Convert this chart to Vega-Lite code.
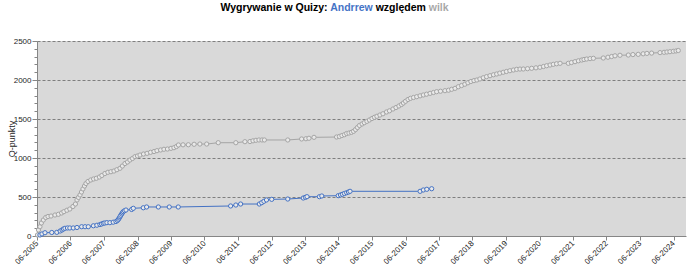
{
  "$schema": "https://vega.github.io/schema/vega-lite/v6.json",
  "autosize": "none",
  "width": 649,
  "height": 195,
  "padding": {"left": 37, "top": 41, "right": 7, "bottom": 30},
  "background": "white",
  "config": {
    "view": {"fill": "#d9d9d9", "stroke": null},
    "font": "Liberation Sans",
    "axis": {"labelFont": "Liberation Sans", "titleFont": "Liberation Sans", "labelColor": "#262626", "titleColor": "#262626", "domainColor": "#868686", "tickColor": "#868686"}
  },
  "title": {
    "text": "Wygrywanie w Quizy: Andrrew względem wilk",
    "font": "Liberation Sans",
    "fontSize": 10.5,
    "fontWeight": "bold",
    "anchor": "middle",
    "frame": "group",
    "offset": 24,
    "dx": -27,
    "color": "#000000",
    "encoding": {
      "fill": {"value": {"gradient": "linear", "x1": 0, "x2": 1, "y1": 0, "y2": 0, "stops": [
        {"offset": 0, "color": "#000000"},
        {"offset": 0.476, "color": "#000000"},
        {"offset": 0.476, "color": "#4472c4"},
        {"offset": 0.675, "color": "#4472c4"},
        {"offset": 0.675, "color": "#000000"},
        {"offset": 0.908, "color": "#000000"},
        {"offset": 0.908, "color": "#a6a6a6"},
        {"offset": 1, "color": "#a6a6a6"}
      ]}}
    }
  },
  "data": {"values": [
    {"player":"wilk","date":"2005-06-06","points":13},
    {"player":"wilk","date":"2005-06-17","points":77},
    {"player":"wilk","date":"2005-07-03","points":119},
    {"player":"wilk","date":"2005-07-19","points":167},
    {"player":"wilk","date":"2005-08-09","points":205},
    {"player":"wilk","date":"2005-09-04","points":237},
    {"player":"wilk","date":"2005-09-29","points":250},
    {"player":"wilk","date":"2005-11-01","points":256},
    {"player":"wilk","date":"2005-12-14","points":269},
    {"player":"wilk","date":"2006-01-20","points":278},
    {"player":"wilk","date":"2006-02-24","points":295},
    {"player":"wilk","date":"2006-03-21","points":312},
    {"player":"wilk","date":"2006-04-23","points":330},
    {"player":"wilk","date":"2006-05-25","points":346},
    {"player":"wilk","date":"2006-06-28","points":378},
    {"player":"wilk","date":"2006-07-25","points":410},
    {"player":"wilk","date":"2006-08-11","points":462},
    {"player":"wilk","date":"2006-08-27","points":494},
    {"player":"wilk","date":"2006-09-13","points":526},
    {"player":"wilk","date":"2006-09-29","points":564},
    {"player":"wilk","date":"2006-10-15","points":603},
    {"player":"wilk","date":"2006-11-01","points":641},
    {"player":"wilk","date":"2006-11-17","points":673},
    {"player":"wilk","date":"2006-12-09","points":699},
    {"player":"wilk","date":"2007-01-08","points":718},
    {"player":"wilk","date":"2007-02-08","points":731},
    {"player":"wilk","date":"2007-03-10","points":740},
    {"player":"wilk","date":"2007-04-12","points":756},
    {"player":"wilk","date":"2007-05-09","points":776},
    {"player":"wilk","date":"2007-06-11","points":801},
    {"player":"wilk","date":"2007-07-14","points":817},
    {"player":"wilk","date":"2007-08-16","points":824},
    {"player":"wilk","date":"2007-09-18","points":833},
    {"player":"wilk","date":"2007-10-20","points":850},
    {"player":"wilk","date":"2007-11-23","points":868},
    {"player":"wilk","date":"2007-12-19","points":897},
    {"player":"wilk","date":"2008-01-16","points":929},
    {"player":"wilk","date":"2008-02-13","points":949},
    {"player":"wilk","date":"2008-03-10","points":974},
    {"player":"wilk","date":"2008-04-07","points":994},
    {"player":"wilk","date":"2008-05-04","points":1017},
    {"player":"wilk","date":"2008-06-01","points":1026},
    {"player":"wilk","date":"2008-06-28","points":1038},
    {"player":"wilk","date":"2008-08-05","points":1051},
    {"player":"wilk","date":"2008-09-13","points":1060},
    {"player":"wilk","date":"2008-10-21","points":1073},
    {"player":"wilk","date":"2008-11-28","points":1083},
    {"player":"wilk","date":"2008-12-30","points":1094},
    {"player":"wilk","date":"2009-02-08","points":1103},
    {"player":"wilk","date":"2009-03-16","points":1112},
    {"player":"wilk","date":"2009-04-23","points":1115},
    {"player":"wilk","date":"2009-06-01","points":1124},
    {"player":"wilk","date":"2009-07-03","points":1132},
    {"player":"wilk","date":"2009-07-30","points":1147},
    {"player":"wilk","date":"2009-08-21","points":1167},
    {"player":"wilk","date":"2009-10-10","points":1169},
    {"player":"wilk","date":"2009-12-07","points":1170},
    {"player":"wilk","date":"2010-02-08","points":1176},
    {"player":"wilk","date":"2010-04-12","points":1179},
    {"player":"wilk","date":"2010-06-25","points":1179},
    {"player":"wilk","date":"2010-10-29","points":1196},
    {"player":"wilk","date":"2011-05-09","points":1196},
    {"player":"wilk","date":"2011-08-16","points":1209},
    {"player":"wilk","date":"2011-10-10","points":1211},
    {"player":"wilk","date":"2011-11-12","points":1220},
    {"player":"wilk","date":"2011-12-14","points":1227},
    {"player":"wilk","date":"2012-01-16","points":1231},
    {"player":"wilk","date":"2012-02-18","points":1231},
    {"player":"wilk","date":"2012-03-15","points":1231},
    {"player":"wilk","date":"2012-11-25","points":1231},
    {"player":"wilk","date":"2013-04-25","points":1244},
    {"player":"wilk","date":"2013-06-11","points":1247},
    {"player":"wilk","date":"2013-07-14","points":1253},
    {"player":"wilk","date":"2013-09-07","points":1265},
    {"player":"wilk","date":"2014-05-11","points":1269},
    {"player":"wilk","date":"2014-06-11","points":1276},
    {"player":"wilk","date":"2014-07-08","points":1288},
    {"player":"wilk","date":"2014-08-05","points":1299},
    {"player":"wilk","date":"2014-08-29","points":1314},
    {"player":"wilk","date":"2014-09-23","points":1320},
    {"player":"wilk","date":"2014-10-20","points":1329},
    {"player":"wilk","date":"2014-11-12","points":1342},
    {"player":"wilk","date":"2014-12-04","points":1365},
    {"player":"wilk","date":"2014-12-25","points":1391},
    {"player":"wilk","date":"2015-01-16","points":1417},
    {"player":"wilk","date":"2015-02-13","points":1436},
    {"player":"wilk","date":"2015-03-10","points":1453},
    {"player":"wilk","date":"2015-04-07","points":1470},
    {"player":"wilk","date":"2015-05-04","points":1487},
    {"player":"wilk","date":"2015-06-01","points":1506},
    {"player":"wilk","date":"2015-06-28","points":1522},
    {"player":"wilk","date":"2015-07-25","points":1535},
    {"player":"wilk","date":"2015-08-27","points":1551},
    {"player":"wilk","date":"2015-09-29","points":1567},
    {"player":"wilk","date":"2015-11-07","points":1590},
    {"player":"wilk","date":"2015-12-09","points":1605},
    {"player":"wilk","date":"2016-01-16","points":1628},
    {"player":"wilk","date":"2016-02-18","points":1647},
    {"player":"wilk","date":"2016-03-21","points":1667},
    {"player":"wilk","date":"2016-04-18","points":1686},
    {"player":"wilk","date":"2016-05-09","points":1705},
    {"player":"wilk","date":"2016-06-01","points":1727},
    {"player":"wilk","date":"2016-06-28","points":1750},
    {"player":"wilk","date":"2016-07-25","points":1765},
    {"player":"wilk","date":"2016-08-27","points":1776},
    {"player":"wilk","date":"2016-10-01","points":1786},
    {"player":"wilk","date":"2016-11-07","points":1797},
    {"player":"wilk","date":"2016-12-12","points":1808},
    {"player":"wilk","date":"2017-01-16","points":1818},
    {"player":"wilk","date":"2017-02-24","points":1829},
    {"player":"wilk","date":"2017-04-02","points":1840},
    {"player":"wilk","date":"2017-05-06","points":1850},
    {"player":"wilk","date":"2017-06-17","points":1856},
    {"player":"wilk","date":"2017-08-05","points":1863},
    {"player":"wilk","date":"2017-09-13","points":1869},
    {"player":"wilk","date":"2017-10-17","points":1881},
    {"player":"wilk","date":"2017-11-23","points":1893},
    {"player":"wilk","date":"2017-12-29","points":1914},
    {"player":"wilk","date":"2018-02-02","points":1929},
    {"player":"wilk","date":"2018-03-10","points":1946},
    {"player":"wilk","date":"2018-04-12","points":1964},
    {"player":"wilk","date":"2018-05-15","points":1981},
    {"player":"wilk","date":"2018-06-17","points":1992},
    {"player":"wilk","date":"2018-07-19","points":2000},
    {"player":"wilk","date":"2018-08-21","points":2013},
    {"player":"wilk","date":"2018-09-27","points":2029},
    {"player":"wilk","date":"2018-11-01","points":2043},
    {"player":"wilk","date":"2018-12-09","points":2055},
    {"player":"wilk","date":"2019-01-16","points":2067},
    {"player":"wilk","date":"2019-02-20","points":2077},
    {"player":"wilk","date":"2019-03-26","points":2088},
    {"player":"wilk","date":"2019-05-02","points":2099},
    {"player":"wilk","date":"2019-06-06","points":2109},
    {"player":"wilk","date":"2019-07-14","points":2119},
    {"player":"wilk","date":"2019-08-21","points":2128},
    {"player":"wilk","date":"2019-09-26","points":2137},
    {"player":"wilk","date":"2019-11-01","points":2140},
    {"player":"wilk","date":"2019-12-07","points":2141},
    {"player":"wilk","date":"2020-01-22","points":2145},
    {"player":"wilk","date":"2020-03-07","points":2150},
    {"player":"wilk","date":"2020-04-23","points":2156},
    {"player":"wilk","date":"2020-06-06","points":2163},
    {"player":"wilk","date":"2020-07-14","points":2173},
    {"player":"wilk","date":"2020-08-18","points":2183},
    {"player":"wilk","date":"2020-09-24","points":2192},
    {"player":"wilk","date":"2020-10-29","points":2201},
    {"player":"wilk","date":"2020-12-04","points":2208},
    {"player":"wilk","date":"2021-01-11","points":2214},
    {"player":"wilk","date":"2021-04-11","points":2214},
    {"player":"wilk","date":"2021-05-15","points":2224},
    {"player":"wilk","date":"2021-06-23","points":2235},
    {"player":"wilk","date":"2021-07-30","points":2246},
    {"player":"wilk","date":"2021-09-04","points":2256},
    {"player":"wilk","date":"2021-09-29","points":2263},
    {"player":"wilk","date":"2021-10-28","points":2269},
    {"player":"wilk","date":"2021-12-04","points":2274},
    {"player":"wilk","date":"2022-01-09","points":2278},
    {"player":"wilk","date":"2022-04-27","points":2282},
    {"player":"wilk","date":"2022-06-17","points":2292},
    {"player":"wilk","date":"2022-07-27","points":2301},
    {"player":"wilk","date":"2022-09-02","points":2310},
    {"player":"wilk","date":"2022-10-26","points":2317},
    {"player":"wilk","date":"2023-01-25","points":2320},
    {"player":"wilk","date":"2023-03-16","points":2326},
    {"player":"wilk","date":"2023-05-13","points":2329},
    {"player":"wilk","date":"2023-07-06","points":2336},
    {"player":"wilk","date":"2023-08-16","points":2341},
    {"player":"wilk","date":"2023-10-06","points":2345},
    {"player":"wilk","date":"2024-01-06","points":2351},
    {"player":"wilk","date":"2024-02-19","points":2355},
    {"player":"wilk","date":"2024-03-21","points":2359},
    {"player":"wilk","date":"2024-04-23","points":2363},
    {"player":"wilk","date":"2024-05-29","points":2368},
    {"player":"wilk","date":"2024-06-28","points":2372},
    {"player":"wilk","date":"2024-07-23","points":2378},
    {"player":"Andrrew","date":"2005-07-03","points":13},
    {"player":"Andrrew","date":"2005-07-25","points":26},
    {"player":"Andrrew","date":"2005-08-27","points":42},
    {"player":"Andrrew","date":"2005-11-09","points":45},
    {"player":"Andrrew","date":"2006-01-03","points":47},
    {"player":"Andrrew","date":"2006-02-08","points":64},
    {"player":"Andrrew","date":"2006-03-01","points":77},
    {"player":"Andrrew","date":"2006-03-16","points":90},
    {"player":"Andrrew","date":"2006-04-02","points":99},
    {"player":"Andrrew","date":"2006-04-29","points":103},
    {"player":"Andrrew","date":"2006-05-25","points":103},
    {"player":"Andrrew","date":"2006-07-01","points":103},
    {"player":"Andrrew","date":"2006-08-11","points":109},
    {"player":"Andrrew","date":"2006-10-01","points":119},
    {"player":"Andrrew","date":"2006-11-07","points":119},
    {"player":"Andrrew","date":"2006-12-12","points":119},
    {"player":"Andrrew","date":"2007-02-06","points":131},
    {"player":"Andrrew","date":"2007-03-16","points":138},
    {"player":"Andrrew","date":"2007-04-18","points":147},
    {"player":"Andrrew","date":"2007-05-06","points":154},
    {"player":"Andrrew","date":"2007-05-25","points":163},
    {"player":"Andrrew","date":"2007-06-11","points":167},
    {"player":"Andrrew","date":"2007-07-03","points":171},
    {"player":"Andrrew","date":"2007-08-05","points":171},
    {"player":"Andrrew","date":"2007-09-10","points":177},
    {"player":"Andrrew","date":"2007-10-10","points":186},
    {"player":"Andrrew","date":"2007-10-26","points":199},
    {"player":"Andrrew","date":"2007-11-06","points":214},
    {"player":"Andrrew","date":"2007-11-15","points":231},
    {"player":"Andrrew","date":"2007-11-23","points":247},
    {"player":"Andrrew","date":"2007-12-01","points":265},
    {"player":"Andrrew","date":"2007-12-11","points":282},
    {"player":"Andrrew","date":"2007-12-19","points":297},
    {"player":"Andrrew","date":"2007-12-28","points":312},
    {"player":"Andrrew","date":"2008-01-11","points":324},
    {"player":"Andrrew","date":"2008-01-27","points":333},
    {"player":"Andrrew","date":"2008-03-29","points":340},
    {"player":"Andrrew","date":"2008-04-16","points":355},
    {"player":"Andrrew","date":"2008-08-03","points":362},
    {"player":"Andrrew","date":"2008-09-08","points":372},
    {"player":"Andrrew","date":"2009-01-14","points":372},
    {"player":"Andrrew","date":"2009-05-13","points":372},
    {"player":"Andrrew","date":"2009-08-19","points":372},
    {"player":"Andrrew","date":"2011-03-13","points":385},
    {"player":"Andrrew","date":"2011-05-09","points":397},
    {"player":"Andrrew","date":"2011-06-30","points":410},
    {"player":"Andrrew","date":"2012-01-20","points":410},
    {"player":"Andrrew","date":"2012-02-15","points":427},
    {"player":"Andrrew","date":"2012-03-10","points":445},
    {"player":"Andrrew","date":"2012-04-07","points":462},
    {"player":"Andrrew","date":"2012-06-03","points":470},
    {"player":"Andrrew","date":"2012-11-25","points":474},
    {"player":"Andrrew","date":"2013-05-13","points":487},
    {"player":"Andrrew","date":"2013-06-06","points":496},
    {"player":"Andrrew","date":"2013-06-23","points":504},
    {"player":"Andrrew","date":"2013-11-05","points":504},
    {"player":"Andrrew","date":"2013-12-01","points":513},
    {"player":"Andrrew","date":"2014-05-29","points":517},
    {"player":"Andrrew","date":"2014-06-23","points":526},
    {"player":"Andrrew","date":"2014-07-14","points":535},
    {"player":"Andrrew","date":"2014-08-05","points":545},
    {"player":"Andrrew","date":"2014-08-29","points":555},
    {"player":"Andrrew","date":"2014-09-18","points":564},
    {"player":"Andrrew","date":"2014-10-05","points":573},
    {"player":"Andrrew","date":"2016-11-07","points":573},
    {"player":"Andrrew","date":"2016-12-12","points":590},
    {"player":"Andrrew","date":"2017-01-19","points":599},
    {"player":"Andrrew","date":"2017-03-13","points":606}
  ]},
  "encoding": {
    "x": {
      "field": "date", "type": "temporal",
      "scale": {"type": "utc", "domain": [{"year": 2005, "month": 6, "date": 1, "utc": true}, {"year": 2024, "month": 10, "date": 15, "utc": true}]},
      "axis": {
        "title": null,
        "values": [
          {"year": 2005, "month": 6, "date": 1, "utc": true},
          {"year": 2006, "month": 6, "date": 1, "utc": true},
          {"year": 2007, "month": 6, "date": 1, "utc": true},
          {"year": 2008, "month": 6, "date": 1, "utc": true},
          {"year": 2009, "month": 6, "date": 1, "utc": true},
          {"year": 2010, "month": 6, "date": 1, "utc": true},
          {"year": 2011, "month": 6, "date": 1, "utc": true},
          {"year": 2012, "month": 6, "date": 1, "utc": true},
          {"year": 2013, "month": 6, "date": 1, "utc": true},
          {"year": 2014, "month": 6, "date": 1, "utc": true},
          {"year": 2015, "month": 6, "date": 1, "utc": true},
          {"year": 2016, "month": 6, "date": 1, "utc": true},
          {"year": 2017, "month": 6, "date": 1, "utc": true},
          {"year": 2018, "month": 6, "date": 1, "utc": true},
          {"year": 2019, "month": 6, "date": 1, "utc": true},
          {"year": 2020, "month": 6, "date": 1, "utc": true},
          {"year": 2021, "month": 6, "date": 1, "utc": true},
          {"year": 2022, "month": 6, "date": 1, "utc": true},
          {"year": 2023, "month": 6, "date": 1, "utc": true},
          {"year": 2024, "month": 6, "date": 1, "utc": true}
        ],
        "labelExpr": "utcFormat(datum.value, '%m-%Y')",
        "labelAngle": -45,
        "labelAlign": "right",
        "labelBaseline": "middle",
        "labelFontSize": 8,
        "labelPadding": 2,
        "labelOverlap": false,
        "labelFlush": false,
        "tickSize": 4,
        "grid": false
      }
    },
    "y": {
      "field": "points", "type": "quantitative",
      "scale": {"domain": [0, 2500], "nice": false},
      "axis": {
        "title": "Q-punkty",
        "titleFontSize": 9,
        "titleFontWeight": "normal",
        "titlePadding": -3,
        "values": [0,100,200,300,400,500,600,700,800,900,1000,1100,1200,1300,1400,1500,1600,1700,1800,1900,2000,2100,2200,2300,2400,2500],
        "format": "d",
        "labelExpr": "datum.value % 500 == 0 ? datum.label : ''",
        "labelFontSize": 8,
        "labelPadding": 1,
        "labelOverlap": false,
        "grid": true,
        "gridColor": "#7f7f7f",
        "gridDash": [3, 2],
        "gridOpacity": {"condition": {"test": "datum.value % 500 == 0 && datum.value > 0", "value": 1}, "value": 0},
        "tickSize": {"condition": {"test": "datum.value % 500 == 0", "value": 5}, "value": 3}
      }
    },
    "color": {
      "field": "player", "type": "nominal",
      "scale": {"domain": ["Andrrew", "wilk"], "range": ["#4472c4", "#a5a5a5"]},
      "legend": null
    }
  },
  "layer": [
    {"mark": {"type": "line", "strokeWidth": 1}},
    {"mark": {"type": "point", "shape": "circle", "size": 18, "strokeWidth": 1, "filled": false, "fill": "#e9e9e9", "fillOpacity": 1, "opacity": 1}}
  ]
}
